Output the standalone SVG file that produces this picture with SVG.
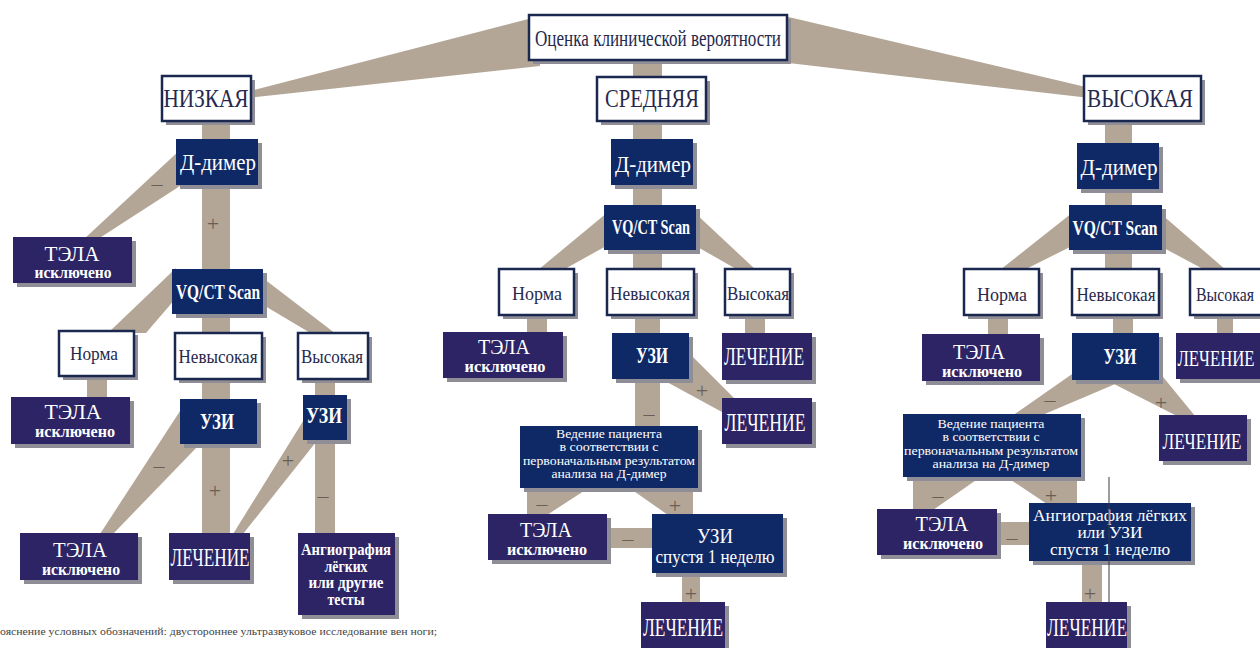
<svg xmlns="http://www.w3.org/2000/svg" width="1260" height="648" viewBox="0 0 1260 648">
<style>
.c{fill:#b3a696}
.sh{fill:#8f8d96}
.w{fill:#fff;stroke:#1a2850;stroke-width:2.5}
.n{fill:#0f2966}
.p{fill:#2c2465}
text{font-family:"Liberation Serif","Times New Roman",serif;text-anchor:middle}
.tw{fill:#26294d;font-size:19px}
.tn{fill:#fff}
.b{font-weight:bold}
.t1{font-size:20px}
.t2{font-size:17px;font-weight:bold}
.s{fill:#6a5e55;font-size:22px;dominant-baseline:central}
.fn{fill:#444;font-size:11px;text-anchor:start}
</style>
<rect width="1260" height="648" fill="#fff"/>
<g id="connectors">
<polygon class="c" points="540,16 540,66 246,98 246,92"/>
<polygon class="c" points="780,15 780,62 1090,98 1090,88"/>
<rect class="c" x="633" y="58" width="29" height="22"/>
<rect class="c" x="202" y="120" width="28" height="150"/>
<polygon class="c" points="180,150 180,186 98,239 84,239"/>
<polygon class="c" points="176,268 176,298 146,333 108,333"/>
<polygon class="c" points="255,272 255,300 312,334 336,334"/>
<rect class="c" x="202" y="314" width="28" height="220"/>
<rect class="c" x="87" y="375" width="20" height="24"/>
<rect class="c" x="315" y="379" width="20" height="155"/>
<polygon class="c" points="182,408 198,446 113,534 100,534"/>
<polygon class="c" points="305,418 316,442 243,534 233,534"/>
<rect class="c" x="633" y="120" width="29" height="150"/>
<polygon class="c" points="608,212 608,245 563,270 538,270"/>
<polygon class="c" points="694,212 694,245 738,270 756,270"/>
<rect class="c" x="527" y="314" width="20" height="20"/>
<rect class="c" x="635" y="314" width="25" height="113"/>
<rect class="c" x="745" y="314" width="20" height="20"/>
<polygon class="c" points="688,352 665,381 722,412 736,400"/>
<polygon class="c" points="527,487 590,487 547,515 527,515"/>
<polygon class="c" points="628,487 693,487 693,515 668,515"/>
<rect class="c" x="605" y="528" width="48" height="20"/>
<rect class="c" x="682" y="572" width="18" height="31"/>
<rect class="c" x="1105" y="120" width="27" height="150"/>
<polygon class="c" points="1072,213 1072,246 1024,270 1000,270"/>
<polygon class="c" points="1160,213 1160,246 1205,270 1226,270"/>
<rect class="c" x="988" y="314" width="20" height="21"/>
<rect class="c" x="1113" y="314" width="20" height="20"/>
<rect class="c" x="1217" y="314" width="16" height="20"/>
<polygon class="c" points="1075,372 1120,382 1040,416 1012,416"/>
<polygon class="c" points="1108,381 1159,372 1195,416 1177,416"/>
<polygon class="c" points="913,476 982,476 933,510 913,510"/>
<polygon class="c" points="1005,476 1077,476 1077,504 1047,504"/>
<rect class="c" x="995" y="522" width="36" height="23"/>
<rect class="c" x="1082" y="560" width="20" height="43"/>
<text class="s" x="157" y="183">–</text>
<text class="s" x="213" y="223">+</text>
<text class="s" x="159" y="465">–</text>
<text class="s" x="215" y="490">+</text>
<text class="s" x="288" y="460">+</text>
<text class="s" x="323" y="495">–</text>
<text class="s" x="702" y="390">+</text>
<text class="s" x="649" y="413">–</text>
<text class="s" x="542" y="503">–</text>
<text class="s" x="675" y="505">+</text>
<text class="s" x="628" y="538">–</text>
<text class="s" x="691" y="593">+</text>
<text class="s" x="1050" y="399">–</text>
<text class="s" x="1161" y="402">+</text>
<text class="s" x="938" y="495">–</text>
<text class="s" x="1051" y="495">+</text>
<text class="s" x="1012" y="537">–</text>
<text class="s" x="1090" y="593">+</text>
</g>
<g id="n-top"><rect class="sh" x="533" y="19" width="258" height="45"/><rect class="w" x="529" y="15" width="258" height="45"/><text class="tw" x="658" y="46" textLength="246" lengthAdjust="spacingAndGlyphs" style="font-size:23px">Оценка клинической вероятности</text></g>
<g id="n-low"><rect class="sh" x="166" y="80" width="89" height="45"/><rect class="w" x="162" y="76" width="89" height="45"/><text class="tw" x="206" y="107" style="font-size:25px" textLength="85" lengthAdjust="spacingAndGlyphs">НИЗКАЯ</text></g>
<g id="n-mid"><rect class="sh" x="601" y="81" width="109" height="44"/><rect class="w" x="597" y="77" width="109" height="44"/><text class="tw" x="652" y="107" style="font-size:25px" textLength="94" lengthAdjust="spacingAndGlyphs">СРЕДНЯЯ</text></g>
<g id="n-high"><rect class="sh" x="1088" y="80" width="117" height="45"/><rect class="w" x="1084" y="76" width="117" height="45"/><text class="tw" x="1140" y="107" style="font-size:25px" textLength="106" lengthAdjust="spacingAndGlyphs">ВЫСОКАЯ</text></g>

<g id="l-dd"><rect class="sh" x="180" y="143" width="82" height="46"/><rect class="n" x="176" y="139" width="82" height="46"/><text class="tn" x="218" y="170" style="font-size:24px" textLength="76" lengthAdjust="spacingAndGlyphs">Д-димер</text></g>
<g id="l-tela1"><rect class="sh" x="17" y="241" width="119" height="46"/><rect class="p" x="13" y="237" width="119" height="46"/><text class="tn t1" x="72" y="261" textLength="55" lengthAdjust="spacingAndGlyphs">ТЭЛА</text><text class="tn t2" x="73" y="278" textLength="77" lengthAdjust="spacingAndGlyphs">исключено</text></g>
<g id="l-vq"><rect class="sh" x="176" y="273" width="91" height="45"/><rect class="n" x="172" y="269" width="91" height="45"/><text class="tn b" x="218" y="299" style="font-size:22px" textLength="84" lengthAdjust="spacingAndGlyphs">VQ/CT Scan</text></g>
<g id="l-norm"><rect class="sh" x="63" y="335" width="75" height="45"/><rect class="w" x="59" y="331" width="75" height="45"/><text class="tw" x="94" y="360" textLength="48" lengthAdjust="spacingAndGlyphs">Норма</text></g>
<g id="l-nonhigh"><rect class="sh" x="179" y="337" width="87" height="46"/><rect class="w" x="175" y="333" width="87" height="46"/><text class="tw" x="218" y="363" textLength="79" lengthAdjust="spacingAndGlyphs">Невысокая</text></g>
<g id="l-high"><rect class="sh" x="302" y="337" width="70" height="46"/><rect class="w" x="298" y="333" width="70" height="46"/><text class="tw" x="332" y="363" textLength="62" lengthAdjust="spacingAndGlyphs">Высокая</text></g>
<g id="l-tela2"><rect class="sh" x="15" y="401" width="119" height="47"/><rect class="p" x="11" y="397" width="119" height="47"/><text class="tn t1" x="73" y="419" textLength="57" lengthAdjust="spacingAndGlyphs">ТЭЛА</text><text class="tn t2" x="75" y="437" textLength="80" lengthAdjust="spacingAndGlyphs">исключено</text></g>
<g id="l-uzi1"><rect class="sh" x="184" y="403" width="77" height="45"/><rect class="n" x="180" y="399" width="77" height="45"/><text class="tn b" x="217" y="429" style="font-size:23px" textLength="34" lengthAdjust="spacingAndGlyphs">УЗИ</text></g>
<g id="l-uzi2"><rect class="sh" x="307" y="399" width="44" height="45"/><rect class="n" x="303" y="395" width="44" height="45"/><text class="tn b" x="324" y="423" style="font-size:23px" textLength="36" lengthAdjust="spacingAndGlyphs">УЗИ</text></g>
<g id="l-tela3"><rect class="sh" x="24" y="537" width="118" height="47"/><rect class="p" x="20" y="533" width="118" height="47"/><text class="tn t1" x="80" y="557" textLength="54" lengthAdjust="spacingAndGlyphs">ТЭЛА</text><text class="tn t2" x="81" y="575" textLength="78" lengthAdjust="spacingAndGlyphs">исключено</text></g>
<g id="l-treat"><rect class="sh" x="173" y="537" width="81" height="47"/><rect class="p" x="169" y="533" width="81" height="47"/><text class="tn" x="210" y="566" style="font-size:25px" textLength="79" lengthAdjust="spacingAndGlyphs">ЛЕЧЕНИЕ</text></g>
<g id="l-angio"><rect class="sh" x="302" y="537" width="97" height="82"/><rect class="p" x="298" y="533" width="97" height="82"/><text class="tn b" x="346" y="555" style="font-size:16px" textLength="90" lengthAdjust="spacingAndGlyphs">Ангиография</text><text class="tn b" x="346" y="572" style="font-size:16px" textLength="43" lengthAdjust="spacingAndGlyphs">лёгких</text><text class="tn b" x="346" y="588" style="font-size:16px" textLength="75" lengthAdjust="spacingAndGlyphs">или другие</text><text class="tn b" x="346" y="605" style="font-size:16px" textLength="37" lengthAdjust="spacingAndGlyphs">тесты</text></g>

<g id="m-dd"><rect class="sh" x="615" y="143" width="82" height="46"/><rect class="n" x="611" y="139" width="82" height="46"/><text class="tn" x="653" y="172" style="font-size:24px" textLength="76" lengthAdjust="spacingAndGlyphs">Д-димер</text></g>
<g id="m-vq"><rect class="sh" x="608" y="209" width="92" height="45"/><rect class="n" x="604" y="205" width="92" height="45"/><text class="tn b" x="651" y="234" style="font-size:21px" textLength="78" lengthAdjust="spacingAndGlyphs">VQ/CT Scan</text></g>
<g id="m-norm"><rect class="sh" x="503" y="273" width="75" height="46"/><rect class="w" x="499" y="269" width="75" height="46"/><text class="tw" x="537" y="300" textLength="50" lengthAdjust="spacingAndGlyphs">Норма</text></g>
<g id="m-nonhigh"><rect class="sh" x="611" y="273" width="87" height="46"/><rect class="w" x="607" y="269" width="87" height="46"/><text class="tw" x="650" y="300" textLength="80" lengthAdjust="spacingAndGlyphs">Невысокая</text></g>
<g id="m-high"><rect class="sh" x="729" y="273" width="65" height="46"/><rect class="w" x="725" y="269" width="65" height="46"/><text class="tw" x="758" y="300" textLength="62" lengthAdjust="spacingAndGlyphs">Высокая</text></g>
<g id="m-tela1"><rect class="sh" x="447" y="336" width="120" height="46"/><rect class="p" x="443" y="332" width="120" height="46"/><text class="tn t1" x="504" y="354" textLength="52" lengthAdjust="spacingAndGlyphs">ТЭЛА</text><text class="tn t2" x="505" y="372" textLength="81" lengthAdjust="spacingAndGlyphs">исключено</text></g>
<g id="m-uzi"><rect class="sh" x="616" y="337" width="77" height="46"/><rect class="n" x="612" y="333" width="77" height="46"/><text class="tn b" x="652" y="363" style="font-size:23px" textLength="32" lengthAdjust="spacingAndGlyphs">УЗИ</text></g>
<g id="m-treat1"><rect class="sh" x="726" y="337" width="90" height="47"/><rect class="p" x="722" y="333" width="90" height="47"/><text class="tn" x="764" y="365" style="font-size:25px" textLength="80" lengthAdjust="spacingAndGlyphs">ЛЕЧЕНИЕ</text></g>
<g id="m-treat2"><rect class="sh" x="726" y="402" width="90" height="46"/><rect class="p" x="722" y="398" width="90" height="46"/><text class="tn" x="765" y="431" style="font-size:25px" textLength="81" lengthAdjust="spacingAndGlyphs">ЛЕЧЕНИЕ</text></g>
<g id="m-manage"><rect class="sh" x="524" y="430" width="178" height="62"/><rect class="n" x="520" y="426" width="178" height="62"/><text class="tn" x="609" y="438" style="font-size:12.5px" textLength="106" lengthAdjust="spacingAndGlyphs">Ведение пациента</text><text class="tn" x="609" y="451" style="font-size:12.5px" textLength="99" lengthAdjust="spacingAndGlyphs">в соответствии с</text><text class="tn" x="609" y="465" style="font-size:12.5px" textLength="172" lengthAdjust="spacingAndGlyphs">первоначальным результатом</text><text class="tn" x="609" y="478" style="font-size:12.5px" textLength="115" lengthAdjust="spacingAndGlyphs">анализа на Д-димер</text></g>
<g id="m-tela2"><rect class="sh" x="492" y="518" width="119" height="46"/><rect class="p" x="488" y="514" width="119" height="46"/><text class="tn t1" x="546" y="537" textLength="52" lengthAdjust="spacingAndGlyphs">ТЭЛА</text><text class="tn t2" x="547" y="555" textLength="80" lengthAdjust="spacingAndGlyphs">исключено</text></g>
<g id="m-uzi2"><rect class="sh" x="656" y="518" width="131" height="59"/><rect class="n" x="652" y="514" width="131" height="59"/><text class="tn" x="715" y="543" style="font-size:22px" textLength="36" lengthAdjust="spacingAndGlyphs">УЗИ</text><text class="tn" x="715" y="563" style="font-size:19px" textLength="119" lengthAdjust="spacingAndGlyphs">спустя 1 неделю</text></g>
<g id="m-treat3"><rect class="sh" x="645" y="606" width="84" height="50"/><rect class="p" x="641" y="602" width="84" height="50"/><text class="tn" x="683" y="636" style="font-size:25px" textLength="80" lengthAdjust="spacingAndGlyphs">ЛЕЧЕНИЕ</text></g>

<g id="r-dd"><rect class="sh" x="1081" y="147" width="82" height="46"/><rect class="n" x="1077" y="143" width="82" height="46"/><text class="tn" x="1119" y="175" style="font-size:24px" textLength="77" lengthAdjust="spacingAndGlyphs">Д-димер</text></g>
<g id="r-vq"><rect class="sh" x="1073" y="209" width="93" height="45"/><rect class="n" x="1069" y="205" width="93" height="45"/><text class="tn b" x="1115" y="235" style="font-size:22px" textLength="85" lengthAdjust="spacingAndGlyphs">VQ/CT Scan</text></g>
<g id="r-norm"><rect class="sh" x="968" y="273" width="75" height="46"/><rect class="w" x="964" y="269" width="75" height="46"/><text class="tw" x="1002" y="301" textLength="50" lengthAdjust="spacingAndGlyphs">Норма</text></g>
<g id="r-nonhigh"><rect class="sh" x="1076" y="273" width="87" height="46"/><rect class="w" x="1072" y="269" width="87" height="46"/><text class="tw" x="1116" y="301" textLength="79" lengthAdjust="spacingAndGlyphs">Невысокая</text></g>
<g id="r-high"><rect class="sh" x="1194" y="273" width="74" height="46"/><rect class="w" x="1190" y="269" width="74" height="46"/><text class="tw" x="1225" y="301" style="font-size:18px" textLength="58" lengthAdjust="spacingAndGlyphs">Высокая</text></g>
<g id="r-tela1"><rect class="sh" x="926" y="338" width="118" height="47"/><rect class="p" x="922" y="334" width="118" height="47"/><text class="tn t1" x="979" y="359" textLength="52" lengthAdjust="spacingAndGlyphs">ТЭЛА</text><text class="tn t2" x="982" y="377" textLength="80" lengthAdjust="spacingAndGlyphs">исключено</text></g>
<g id="r-uzi"><rect class="sh" x="1076" y="337" width="87" height="47"/><rect class="n" x="1072" y="333" width="87" height="47"/><text class="tn b" x="1120" y="364" style="font-size:23px" textLength="33" lengthAdjust="spacingAndGlyphs">УЗИ</text></g>
<g id="r-treat1"><rect class="sh" x="1180" y="337" width="86" height="46"/><rect class="p" x="1176" y="333" width="86" height="46"/><text class="tn" x="1216" y="366" style="font-size:24px" textLength="77" lengthAdjust="spacingAndGlyphs">ЛЕЧЕНИЕ</text></g>
<g id="r-treat2"><rect class="sh" x="1163" y="419" width="88" height="46"/><rect class="p" x="1159" y="415" width="88" height="46"/><text class="tn" x="1202" y="449" style="font-size:24px" textLength="79" lengthAdjust="spacingAndGlyphs">ЛЕЧЕНИЕ</text></g>
<g id="r-manage"><rect class="sh" x="907" y="418" width="178" height="63"/><rect class="n" x="903" y="414" width="178" height="63"/><text class="tn" x="991" y="428" style="font-size:12.5px" textLength="107" lengthAdjust="spacingAndGlyphs">Ведение пациента</text><text class="tn" x="991" y="441" style="font-size:12.5px" textLength="97" lengthAdjust="spacingAndGlyphs">в соответствии с</text><text class="tn" x="991" y="455" style="font-size:12.5px" textLength="174" lengthAdjust="spacingAndGlyphs">первоначальным результатом</text><text class="tn" x="991" y="468" style="font-size:12.5px" textLength="117" lengthAdjust="spacingAndGlyphs">анализа на Д-димер</text></g>
<g id="r-tela2"><rect class="sh" x="881" y="513" width="120" height="46"/><rect class="p" x="877" y="509" width="120" height="46"/><text class="tn t1" x="942" y="531" textLength="53" lengthAdjust="spacingAndGlyphs">ТЭЛА</text><text class="tn t2" x="943" y="549" textLength="80" lengthAdjust="spacingAndGlyphs">исключено</text></g>
<g id="r-angio"><rect class="sh" x="1033" y="507" width="162" height="58"/><rect class="n" x="1029" y="503" width="162" height="58"/><text class="tn" x="1110" y="521" style="font-size:16px" textLength="154" lengthAdjust="spacingAndGlyphs">Ангиография лёгких</text><text class="tn" x="1110" y="538" style="font-size:16px" textLength="65" lengthAdjust="spacingAndGlyphs">или УЗИ</text><text class="tn" x="1110" y="555" style="font-size:16px" textLength="120" lengthAdjust="spacingAndGlyphs">спустя 1 неделю</text></g>
<g id="r-treat3"><rect class="sh" x="1050" y="606" width="81" height="50"/><rect class="p" x="1046" y="602" width="81" height="50"/><text class="tn" x="1087" y="636" style="font-size:25px" textLength="80" lengthAdjust="spacingAndGlyphs">ЛЕЧЕНИЕ</text></g>
<g id="marker-line"><line x1="1109" y1="477" x2="1109" y2="603" stroke="#3a3a44" stroke-width="1"/></g>
<text class="fn" x="0" y="635" textLength="437" lengthAdjust="spacingAndGlyphs">ояснение условных обозначений: двустороннее ультразвуковое исследование вен ноги;</text>
</svg>
